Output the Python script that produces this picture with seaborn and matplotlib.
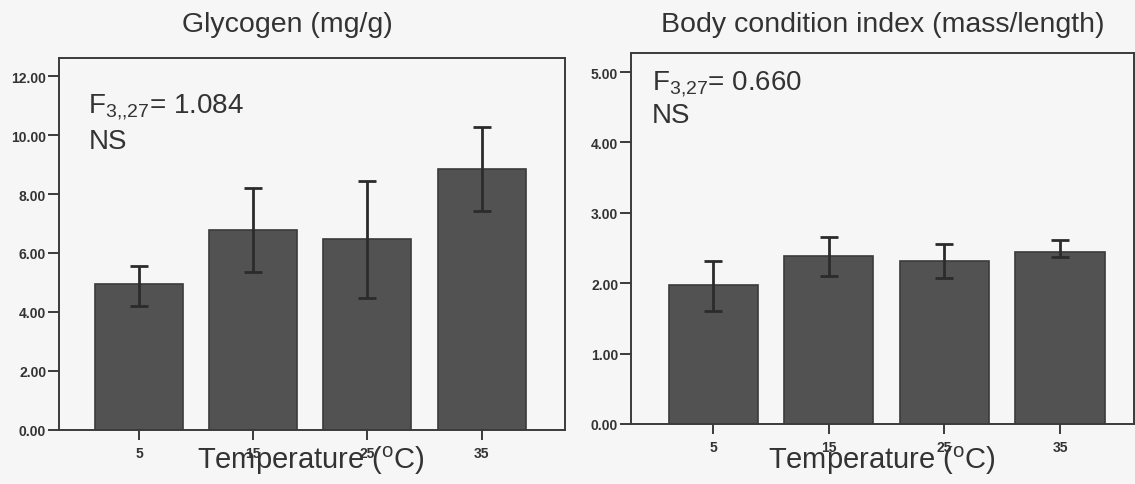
import matplotlib
matplotlib.use("Agg")
import matplotlib.pyplot as plt
import seaborn as sns
import numpy as np

# ---------------- data ----------------
temps = ["5", "15", "25", "35"]

glyco_mean = [4.93, 6.79, 6.48, 8.86]
glyco_low = [4.21, 5.37, 4.47, 7.44]
glyco_high = [5.57, 8.20, 8.44, 10.27]

bci_mean = [1.97, 2.38, 2.32, 2.45]
bci_low = [1.61, 2.10, 2.08, 2.37]
bci_high = [2.31, 2.65, 2.55, 2.61]

glyco_yticks = [0, 2, 4, 6, 8, 10, 12]
bci_yticks = [0, 1, 2, 3, 4, 5]

titles = ["Glycogen (mg/g)", "Body condition index (mass/length)"]
stats_text = [r"F$_{\mathregular{3{,}{,}27}}$= 1.084", r"F$_{\mathregular{3{,}27}}$= 0.660"]
ns_text = "NS"
xlabel = r"Temperature ($^{\mathregular{o}}$C)"

# ---------------- style ----------------
sns.set_theme(style="white")
plt.rcParams["font.family"] = ["Liberation Sans", "DejaVu Sans"]
plt.rcParams["mathtext.fontset"] = "custom"
plt.rcParams["mathtext.rm"] = "Liberation Sans"
plt.rcParams["mathtext.it"] = "Liberation Sans"

BG = "#f6f6f6"
TXT = "#333333"
LINE = "#3a3a3a"
BAR = "#525252"

fig = plt.figure(figsize=(11.35, 4.85), dpi=100, facecolor=BG)

ax1 = fig.add_axes([59 / 1135, 1 - 430.7 / 485, (565 - 59) / 1135, (430.7 - 59) / 485])
ax2 = fig.add_axes([631 / 1135, 1 - 425 / 485, (1134 - 631) / 1135, (425 - 54) / 485])

panels = [
    (ax1, glyco_mean, glyco_low, glyco_high, glyco_yticks, (0, 12.62), (-0.70, 3.73),
     (0.058, 0.854), (0.058, 0.757)),
    (ax2, bci_mean, bci_low, bci_high, bci_yticks, (0, 5.27), (-0.71, 3.64),
     (0.041, 0.903), (0.041, 0.813)),
]

for i, (ax, mean, low, high, yt, ylim, xlim, fpos, npos) in enumerate(panels):
    ax.set_facecolor(BG)
    sns.barplot(x=temps, y=mean, ax=ax, color=BAR, width=0.77, errorbar=None,
                edgecolor="#3a3a3a", linewidth=1.2, saturation=1)
    xs = np.arange(len(temps))
    m = np.array(mean)
    yerr = [m - np.array(low), np.array(high) - m]
    ax.errorbar(xs, m, yerr=yerr, fmt="none", ecolor="#2b2b2b",
                elinewidth=2.0, capsize=6.8, capthick=2.0, zorder=5)
    ax.set_ylim(*ylim)
    ax.set_xlim(*xlim)
    ax.set_yticks(yt)
    ax.set_yticklabels([f"{v:.2f}" for v in yt])
    for s in ["top", "left", "right", "bottom"]:
        ax.spines[s].set_visible(True)
        ax.spines[s].set_color(LINE)
        ax.spines[s].set_linewidth(1.4)
    ax.tick_params(axis="y", which="major", direction="out", length=8, width=1.4,
                   color=LINE, pad=1.2, labelsize=10, labelcolor=TXT, left=True)
    ax.tick_params(axis="x", which="major", direction="out", length=7, width=1.4,
                   color=LINE, pad=4.5, labelsize=10, labelcolor=TXT, bottom=True)
    for lab in ax.get_yticklabels() + ax.get_xticklabels():
        lab.set_fontweight("bold")
    ax.set_xlabel("")
    ax.set_ylabel("")
    ax.grid(False)

    ax.text(fpos[0], fpos[1], stats_text[i], transform=ax.transAxes,
            fontsize=20, color=TXT, ha="left", va="baseline")
    ax.text(npos[0], npos[1], ns_text, transform=ax.transAxes,
            fontsize=20, color=TXT, ha="left", va="baseline")

# x labels (baseline ~469 px from top)
ax1.text(0.498, -(469 - 430.7) / 371.7, xlabel, transform=ax1.transAxes,
         fontsize=21, color=TXT, ha="center", va="baseline")
ax2.text(0.499, -(469 - 425) / 371, xlabel, transform=ax2.transAxes,
         fontsize=21, color=TXT, ha="center", va="baseline")

# titles
fig.text(287 / 1135, 1 - 32 / 485, titles[0], fontsize=20.5, color=TXT,
         ha="center", va="baseline")
fig.text(883 / 1135, 1 - 32 / 485, titles[1], fontsize=20.5, color=TXT,
         ha="center", va="baseline")

fig.savefig("out.png", dpi=100, facecolor=BG)
